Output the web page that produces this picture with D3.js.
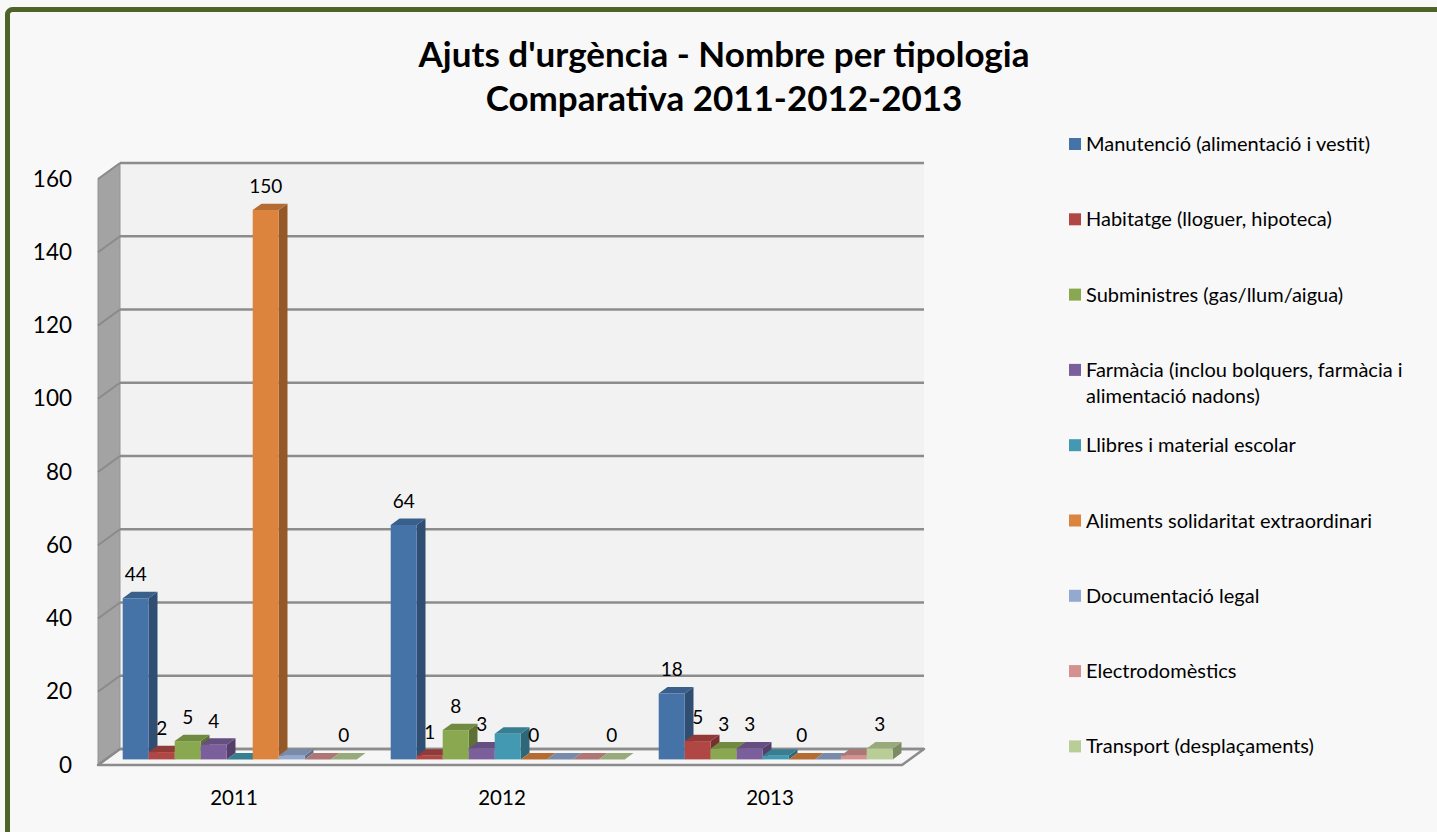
<!DOCTYPE html>
<html>
<head>
<meta charset="utf-8">
<script src="https://cdn.jsdelivr.net/npm/d3@7"></script>
<style>
  body { margin: 0; background: #f8f8f8; }
  svg { display: block; font-family: Lato, "Open Sans", sans-serif; }
</style>
</head>
<body>
<div id="chart"></div>
<script>
// data
const years = ["2011", "2012", "2013"];
const seriesNames = [
  "Manutenció (alimentació i vestit)",
  "Habitatge (lloguer, hipoteca)",
  "Subministres (gas/llum/aigua)",
  "Farmàcia (inclou bolquers, farmàcia i alimentació nadons)",
  "Llibres i material escolar",
  "Aliments solidaritat extraordinari",
  "Documentació legal",
  "Electrodomèstics",
  "Transport (desplaçaments)"
];
const valManutencio = [44, 64, 18];
const valHabitatge = [2, 1, 5];
const valSubministres = [5, 8, 3];
const valFarmacia = [4, 3, 3];
const valLlibres = [0, 7, 1];
const valAliments = [150, 0, 0];
const valDocumentacio = [1, 0, 0];
const valElectro = [0, 0, 1];
const valTransport = [0, 0, 3];
const seriesColors = ["#4573a8", "#b04744", "#8aa84f", "#7b5f9c", "#4399b2", "#dc843d", "#93a9cf", "#d4918f", "#b9ce96"];
// series that show a data label in the original
const labelledSeries = [
  "Manutenció (alimentació i vestit)",
  "Habitatge (lloguer, hipoteca)",
  "Subministres (gas/llum/aigua)",
  "Farmàcia (inclou bolquers, farmàcia i alimentació nadons)",
  "Aliments solidaritat extraordinari",
  "Transport (desplaçaments)"
];
const yTicks = [0, 20, 40, 60, 80, 100, 120, 140, 160];

const allValues = [valManutencio, valHabitatge, valSubministres, valFarmacia, valLlibres,
  valAliments, valDocumentacio, valElectro, valTransport];
const series = seriesNames.map((name, i) => ({ name, color: seriesColors[i], values: allValues[i] }));

const W = 1437, H = 832;
const svg = d3.select("#chart").append("svg").attr("width", W).attr("height", H);

// frame
svg.append("rect")
  .attr("x", 7.5).attr("y", 9.5)
  .attr("width", W + 20).attr("height", H + 20)
  .attr("rx", 5)
  .attr("fill", "#f8f8f8")
  .attr("stroke", "#4f6228")
  .attr("stroke-width", 5);

// title
const title = svg.append("text")
  .attr("text-anchor", "middle")
  .attr("font-weight", "bold")
  .attr("font-size", 35)
  .attr("fill", "#000");
title.append("tspan").attr("x", 724).attr("y", 67).text("Ajuts d'urgència - Nombre per tipologia");
title.append("tspan").attr("x", 724).attr("y", 111).text("Comparativa 2011-2012-2013");

// 3D plot geometry (back wall coords, depth vector goes back -> front)
const DX = -22, DY = 16;
const proj = (x, y, d) => [x + d * DX, y + d * DY];
const dFront = 0.65, dBack = 0.25;

const x = d3.scaleBand().domain(years).range([120, 924]);
const xs = d3.scaleBand().domain(seriesNames).range([17, x.bandwidth() - 17]);
const y = d3.scaleLinear().domain([0, 160]).range([749, 163]);

const g = svg.append("g");
const pts = arr => arr.map(p => p.join(",")).join(" ");

// back wall
g.append("rect")
  .attr("x", x.range()[0]).attr("y", y(160))
  .attr("width", x.range()[1] - x.range()[0])
  .attr("height", y(0) - y(160))
  .attr("fill", "#f2f2f2");

// left wall
g.append("polygon")
  .attr("points", pts([proj(120, y(160), 0), proj(120, y(0), 0), proj(120, y(0), 1), proj(120, y(160), 1)]))
  .attr("fill", "#a3a3a3")
  .attr("stroke", "#949494")
  .attr("stroke-width", 1);

// floor
g.append("polygon")
  .attr("points", pts([proj(120, y(0), 0), proj(924, y(0), 0), proj(924, y(0), 1), proj(120, y(0), 1)]))
  .attr("fill", "#f6f6f6")
  .attr("stroke", "#8c8c8c")
  .attr("stroke-width", 2.5)
  .attr("stroke-linejoin", "round");

// gridlines on back and left wall
yTicks.forEach(v => {
  g.append("line")
    .attr("x1", 120).attr("x2", 924)
    .attr("y1", y(v)).attr("y2", y(v))
    .attr("stroke", "#8c8c8c").attr("stroke-width", 2.5);
  const a = proj(120, y(v), 0), b = proj(120, y(v), 1);
  g.append("line")
    .attr("x1", a[0]).attr("y1", a[1]).attr("x2", b[0]).attr("y2", b[1])
    .attr("stroke", "#8a8a8a").attr("stroke-width", 2);
});

// bars
const bars = [];
years.forEach((yr, yi) => {
  series.forEach(s => {
    bars.push({ year: yr, name: s.name, color: s.color, value: s.values[yi] });
  });
});

const barG = g.selectAll("g.bar").data(bars).join("g").attr("class", "bar");
barG.each(function (d) {
  const el = d3.select(this);
  const x0 = x(d.year) + xs(d.name), x1 = x0 + xs.bandwidth();
  const yt = y(d.value), yb = y(0);
  const c = d3.color(d.color);
  el.append("polygon")
    .attr("points", pts([proj(x1, yt, dFront), proj(x1, yb, dFront), proj(x1, yb, dBack), proj(x1, yt, dBack)]))
    .attr("fill", c.darker(1.1));
  el.append("polygon")
    .attr("points", pts([proj(x0, yt, dFront), proj(x1, yt, dFront), proj(x1, yt, dBack), proj(x0, yt, dBack)]))
    .attr("fill", c.darker(0.55));
  const f0 = proj(x0, yt, dFront);
  el.append("rect")
    .attr("x", f0[0]).attr("y", f0[1])
    .attr("width", xs.bandwidth())
    .attr("height", yb - yt)
    .attr("fill", c);
});

// data labels
g.selectAll("text.lbl")
  .data(bars.filter(d => labelledSeries.includes(d.name)))
  .join("text")
  .attr("class", "lbl")
  .attr("text-anchor", "middle")
  .attr("font-size", 19)
  .attr("fill", "#000")
  .attr("x", d => proj(x(d.year) + xs(d.name) + xs.bandwidth() / 2, 0, dFront)[0])
  .attr("y", d => proj(0, y(d.value), dFront)[1] - 17)
  .text(d => d.value);

// y axis (front left edge)
const yAxis = svg.append("g")
  .attr("transform", `translate(${120 + DX - 26},${DY})`)
  .call(d3.axisLeft(y).tickValues(yTicks).tickSize(0).tickPadding(0));
yAxis.select(".domain").remove();
yAxis.selectAll("text").attr("font-size", 22.5).attr("font-family", "Lato, sans-serif").attr("fill", "#000");

// x axis
const xAxis = svg.append("g")
  .attr("transform", `translate(${DX + 2},${y(0) + DY + 25})`)
  .call(d3.axisBottom(x).tickSize(0).tickPadding(0));
xAxis.select(".domain").remove();
xAxis.selectAll("text").attr("font-size", 20.5).attr("font-family", "Lato, sans-serif").attr("fill", "#000");

// legend
const legend = svg.append("g").attr("transform", "translate(1069,144)");
const li = legend.selectAll("g").data(series).join("g")
  .attr("transform", (d, i) => `translate(0,${i * 75.3})`);
li.append("rect").attr("x", 0).attr("y", -6).attr("width", 12).attr("height", 12).attr("fill", d => d.color);
li.append("text")
  .attr("x", 17)
  .attr("font-size", 20)
  .attr("fill", "#000")
  .each(function (d) {
    const t = d3.select(this);
    const words = d.name.split(" ");
    let line = [];
    let tspan = t.append("tspan").attr("x", 17).attr("dy", "0.35em");
    words.forEach(w => {
      line.push(w);
      tspan.text(line.join(" "));
      if (tspan.node().getComputedTextLength() > 350 && line.length > 1) {
        line.pop();
        tspan.text(line.join(" "));
        line = [w];
        tspan = t.append("tspan").attr("x", 17).attr("dy", "26px").text(w);
      }
    });
  });
</script>
</body>
</html>
